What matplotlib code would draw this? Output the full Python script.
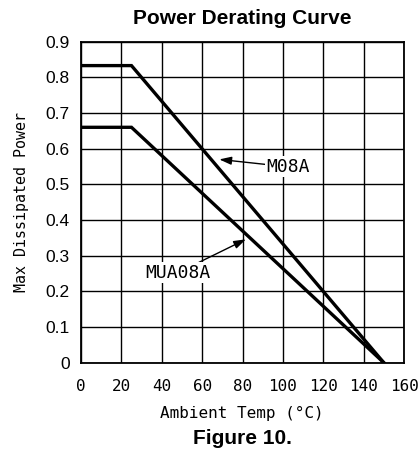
import matplotlib
matplotlib.use("Agg")
import matplotlib.pyplot as plt

# derating curves: flat until 25 C, then linear down to 0 at 150 C
temp = [0, 25, 150]
m08a = [0.833, 0.833, 0.0]
mua08a = [0.66, 0.66, 0.0]

xticks = [0, 20, 40, 60, 80, 100, 120, 140, 160]
yticks = [0, 0.1, 0.2, 0.3, 0.4, 0.5, 0.6, 0.7, 0.8, 0.9]
ytick_labels = ["0", "0.1", "0.2", "0.3", "0.4", "0.5", "0.6", "0.7", "0.8", "0.9"]

mono = "DejaVu Sans Mono"
sans = "Liberation Sans"

fig = plt.figure(figsize=(4.19, 4.57), dpi=100)
ax = fig.add_axes([81 / 419, 1 - 362.7 / 457, 323 / 419, 321 / 457])

ax.plot(temp, m08a, color="black", lw=2.4, solid_joinstyle="miter", zorder=3)
ax.plot(temp, mua08a, color="black", lw=2.4, solid_joinstyle="miter", zorder=3)

ax.set_xlim(0, 160)
ax.set_ylim(0, 0.9)
ax.set_xticks(xticks)
ax.set_yticks(yticks)
ax.set_yticklabels(ytick_labels)
ax.grid(True, color="black", lw=1.0)
ax.set_axisbelow(True)
for s in ax.spines.values():
    s.set_linewidth(1.3)
ax.tick_params(length=0)
ax.tick_params(axis="x", pad=12)
ax.tick_params(axis="y", pad=8)
for t in ax.get_xticklabels():
    t.set_fontfamily(mono)
    t.set_fontsize(11.5)
for t in ax.get_yticklabels():
    t.set_fontfamily(sans)
    t.set_fontsize(12.5)

ax.set_ylabel("Max Dissipated Power", fontfamily=mono, fontsize=10.8, labelpad=12)

box = dict(facecolor="white", edgecolor="none", pad=1)
arrow = dict(arrowstyle="-|>,head_length=0.6,head_width=0.2", color="black", lw=1.0,
             mutation_scale=12, shrinkA=0, shrinkB=0)
ax.annotate("M08A", xy=(68.5, 0.57), xytext=(92, 0.549), fontfamily=mono, fontsize=13,
            va="center", ha="left", bbox=box, arrowprops=arrow, zorder=4)
ax.annotate("MUA08A", xy=(81.7, 0.346), xytext=(31.7, 0.252), fontfamily=mono, fontsize=13,
            va="center", ha="left", bbox=box, arrowprops=arrow, zorder=4)

fig.text(242 / 419, 1 - 19 / 457, "Power Derating Curve", fontfamily=sans, fontweight="bold",
         fontsize=15, ha="center", va="center")
fig.text(242 / 419, 1 - 413 / 457, "Ambient Temp (\u00b0C)", fontfamily=mono, fontsize=11.5,
         ha="center", va="center")
fig.text(242 / 419, 1 - 438 / 457, "Figure 10.", fontfamily=sans, fontweight="bold",
         fontsize=15, ha="center", va="center")

fig.savefig("out.png", dpi=100)
